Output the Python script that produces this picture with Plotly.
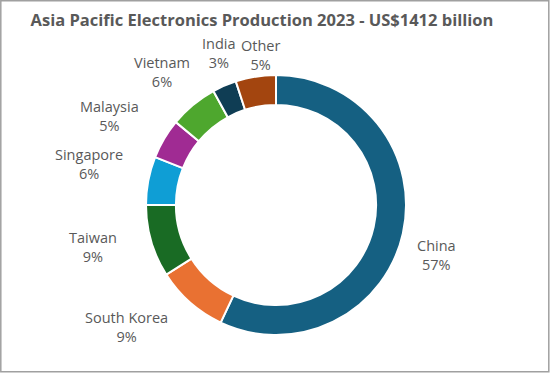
import math
import plotly.graph_objects as go

# ---- data ----
countries = ["China", "South Korea", "Taiwan", "Singapore", "Malaysia", "Vietnam", "India", "Other"]
shares = [57, 9, 9, 6, 5, 6, 3, 5]  # percent of US$1412 billion
title_text = "Asia Pacific Electronics Production 2023 - US$1412 billion"

# ---- styling ----
colors = ["#156082", "#E97132", "#196B24", "#0F9ED5", "#A02B93", "#4EA72E", "#0F3D54", "#A3450F"]
label_shift = [(34, 22), (-64, 24), (-58, 6), (-59, -17), (-55, -23), (-31, -33), (-5, -33), (5, -22)]

W, H = 550, 373
CX, CY, R = 276, 205, 130
HOLE = 0.77

fig = go.Figure(go.Pie(
    labels=countries,
    values=shares,
    sort=False,
    direction="clockwise",
    rotation=0,
    hole=HOLE,
    marker=dict(colors=colors, line=dict(color="white", width=2)),
    textinfo="none",
    hoverinfo="label+percent",
    domain=dict(x=[(CX - R) / W, (CX + R) / W], y=[(H - CY - R) / H, (H - CY + R) / H]),
))

total = sum(shares)
cum = 0.0
annotations = []
for name, v, (dx, dy) in zip(countries, shares, label_shift):
    mid = (cum + v / 2) / total * 2 * math.pi
    cum += v
    px = CX + R * math.sin(mid)
    py = CY - R * math.cos(mid)
    annotations.append(dict(
        x=px / W, y=1 - py / H, xref="paper", yref="paper",
        text=f"{name}<br>{round(v / total * 100)}%",
        showarrow=False, xanchor="center", yanchor="middle",
        xshift=dx, yshift=-dy,
        font=dict(family="Open Sans, Lato, sans-serif", size=14.5, color="#595959"),
    ))

fig.update_layout(
    width=W, height=H,
    margin=dict(l=0, r=0, t=0, b=0),
    paper_bgcolor="white",
    showlegend=False,
    title=dict(
        text=f"<b>{title_text}</b>",
        x=262 / W, xanchor="center", y=1 - 20 / H, yanchor="middle",
        font=dict(family="Open Sans, Lato, sans-serif", size=16.5, color="#595959"),
    ),
    annotations=annotations,
    shapes=[dict(type="rect", xref="paper", yref="paper",
                 x0=0.8 / W, x1=1 - 1.2 / W, y0=1.2 / H, y1=1 - 0.8 / H,
                 line=dict(color="#A0A0A0", width=1.5))],
)

fig.write_html(
    "out.html",
    config={"displayModeBar": False},
    post_script="document.body.style.margin='0';document.body.style.overflow='hidden';",
)
